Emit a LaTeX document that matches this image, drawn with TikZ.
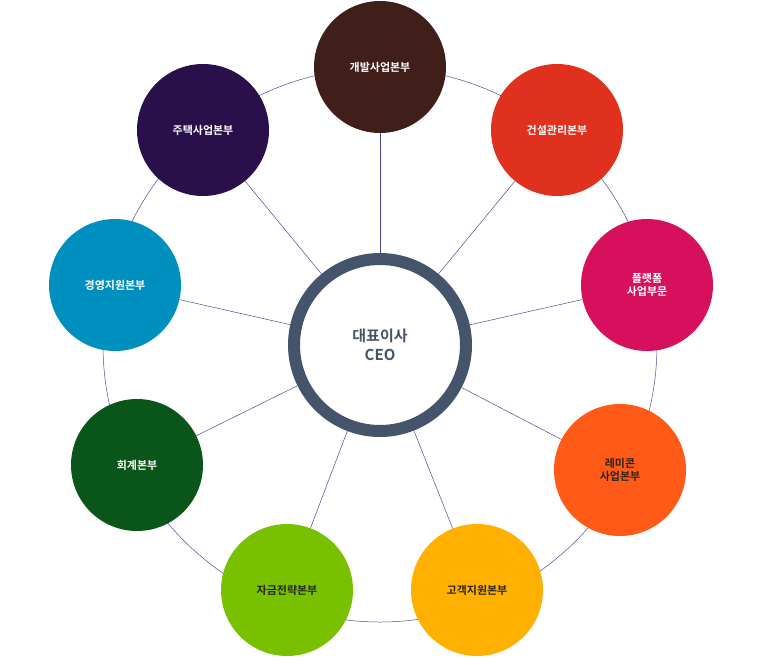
\documentclass[tikz,border=0pt]{standalone}
\usepackage{fontspec}
\newfontfamily\kr{Noto Sans CJK KR}[BoldFont={Noto Sans CJK KR Bold}]
\usepackage{tikz}
\tikzset{%
  font=\kr\bfseries,
  dept/.style={circle,minimum size=132pt,inner sep=0pt,align=center,text=white,font=\kr\bfseries\fontsize{11}{13}\selectfont},
  link/.style={draw=black!30!blue!40!gray,line width=0.5pt}
}
\definecolor{slate}{HTML}{44546A}
\begin{document}
\begin{tikzpicture}[x=1pt,y=-1pt]
	\useasboundingbox (0,0) rectangle (773,664);
	\draw[link] (380,345) circle (277);
	\node[circle,draw=slate,line width=12pt,fill=white,minimum size=172pt,text=slate,align=center,
		font=\kr\bfseries\fontsize{15}{19}\selectfont] (ceo) at (380,345) {대표이사\\CEO};
	\node[dept,fill={rgb,255:red,64;green,30;blue,26}] (dev) at (380,67) {개발사업본부};
	\node[dept,fill={rgb,255:red,224;green,48;blue,30}] (con) at (557,130) {건설관리본부};
	\node[dept,fill={rgb,255:red,214;green,16;blue,92}] (plat) at (647,285) {플랫폼\\사업부문};
	\node[dept,fill={rgb,255:red,255;green,90;blue,24},text=black!85] (remi) at (620,470) {레미콘\\사업본부};
	\node[dept,fill={rgb,255:red,255;green,176;blue,0},text=black!85] (cust) at (477,590) {고객지원본부};
	\node[dept,fill={rgb,255:red,120;green,192;blue,0},text=black!85] (fund) at (287,590) {자금전략본부};
	\node[dept,fill={rgb,255:red,10;green,86;blue,26}] (acc) at (137,465) {회계본부};
	\node[dept,fill={rgb,255:red,0;green,144;blue,192}] (mgmt) at (115,285) {경영지원본부};
	\node[dept,fill={rgb,255:red,42;green,16;blue,74}] (house) at (203,130) {주택사업본부};
	\foreach \d in {dev,con,plat,remi,cust,fund,acc,mgmt,house}
		\draw[link] (ceo) -- (\d);
\end{tikzpicture}
\end{document}
